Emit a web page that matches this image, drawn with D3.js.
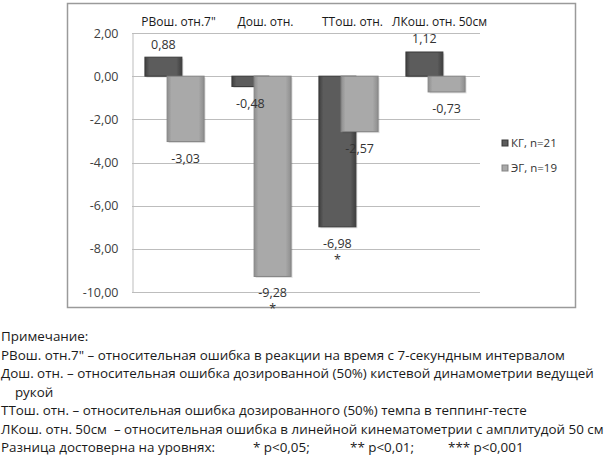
<!DOCTYPE html>
<html>
<head>
<meta charset="utf-8">
<script src="https://cdn.jsdelivr.net/npm/d3@7"></script>
<style>
  body { margin: 0; background: #fff; }
  svg { display: block; font-family: "Open Sans", "Noto Sans", sans-serif; }
  text { white-space: pre; }
</style>
</head>
<body>
<svg id="chart" width="605" height="458"></svg>
<script>
// chart data
var categories = ['РВош. отн.7"', 'Дош. отн.', 'ТТош. отн.', 'ЛКош. отн. 50см'];
var seriesNames = ['КГ, n=21', 'ЭГ, n=19'];
var kgValues = [0.88, -0.48, -6.98, 1.12];
var egValues = [-3.03, -9.28, -2.57, -0.73];
var kgMarks = ['', '', '*', ''];
var egMarks = ['', '*', '', ''];
var yTicks = [2, 0, -2, -4, -6, -8, -10];

var noteLines = [
  'Примечание:',
  'РВош. отн.7" – относительная ошибка в реакции на время с 7-секундным интервалом',
  'Дош. отн. – относительная ошибка дозированной (50%) кистевой динамометрии ведущей',
  '    рукой',
  'ТТош. отн. – относительная ошибка дозированного (50%) темпа в теппинг-тесте',
  'ЛКош. отн. 50см  – относительная ошибка в линейной кинематометрии с амплитудой 50 см'
];
var levelsLabel = 'Разница достоверна на уровнях:';
var levels = ['* p<0,05;', '** p<0,01;', '*** p<0,001'];

var series = [
  {name: seriesNames[0], values: kgValues, marks: kgMarks, fill: 'url(#gradKG)', stroke: '#3a3a3a'},
  {name: seriesNames[1], values: egValues, marks: egMarks, fill: 'url(#gradEG)', stroke: '#858585'}
];

var svg = d3.select('#chart');
var fmt = function (v) { return d3.format('.2f')(v).replace('.', ',').replace('\u2212', '-'); };

/*******************
 * GRADIENTS
 *******************/
var defs = svg.append('defs');
function addGrad(id, edge, mid) {
  var g = defs.append('linearGradient').attr('id', id).attr('x1', 0).attr('x2', 1).attr('y1', 0).attr('y2', 0);
  g.append('stop').attr('offset', '0%').attr('stop-color', edge);
  g.append('stop').attr('offset', '12%').attr('stop-color', mid);
  g.append('stop').attr('offset', '85%').attr('stop-color', mid);
  g.append('stop').attr('offset', '100%').attr('stop-color', edge);
}
addGrad('gradKG', '#3f3f3f', '#5c5c5c');
addGrad('gradEG', '#8e8e8e', '#a9a9a9');

/*******************
 * FRAME
 *******************/
svg.append('rect').attr('x', 67.5).attr('y', 3.5).attr('width', 508).attr('height', 304)
  .attr('fill', '#fff').attr('stroke', '#9a9a9a').attr('stroke-width', 1.5);

/*******************
 * SCALES
 *******************/
var x = d3.scaleBand().domain(categories).range([132, 480]).padding(0);
var y = d3.scaleLinear().domain([-10, 2]).range([292, 33]);
var barW = x.bandwidth() * 0.425;
// overlapped bars: second series shifted by 60% of bar width
var xs = d3.scalePoint().domain(seriesNames).range([-barW * 0.3 - 1, barW * 0.3 - 1]);

// gridlines
svg.append('g').selectAll('line').data(yTicks).join('line')
  .attr('x1', 132).attr('x2', 480)
  .attr('y1', function (d) { return Math.round(y(d)) + 0.5; })
  .attr('y2', function (d) { return Math.round(y(d)) + 0.5; })
  .attr('stroke', '#bdbdbd').attr('stroke-width', 1);

// y axis
var yAxis = svg.append('g').attr('transform', 'translate(132.5,0)')
  .call(d3.axisLeft(y).tickValues(yTicks).tickSize(0).tickPadding(14).tickFormat(fmt));
yAxis.select('.domain').attr('stroke', '#bdbdbd');
yAxis.selectAll('text').attr('font-size', 12.5).attr('fill', '#404040')
  .attr('font-family', '"Open Sans", sans-serif');

// category labels at top
var catLabels = svg.append('g').selectAll('text').data(categories).join('text')
  .attr('x', function (d) { return x(d) + x.bandwidth() / 2 + 3; })
  .attr('y', 26)
  .attr('text-anchor', 'middle')
  .attr('font-size', 12).attr('fill', '#1a1a1a')
  .text(function (d) { return d; });

// push a label right when it would collide with the one before it
function spreadLabels() {
  var prevRight = -Infinity;
  catLabels.each(function (d) {
    var base = x(d) + x.bandwidth() / 2 + 3;
    var w = this.getComputedTextLength();
    var left = base - w / 2;
    if (left < prevRight + 7) left = prevRight + 7;
    d3.select(this).attr('x', left + w / 2);
    prevRight = left + w;
  });
}
spreadLabels();
if (document.fonts && document.fonts.ready) document.fonts.ready.then(spreadLabels);

/*******************
 * BARS
 *******************/
function rowsOf(s) {
  return categories.map(function (c, i) { return {cat: c, v: s.values[i], mark: s.marks[i], name: s.name}; });
}
function cx(d) { return x(d.cat) + x.bandwidth() / 2 + xs(d.name); }

series.forEach(function (s) {
  var g = svg.append('g');
  var rows = rowsOf(s);

  // soft shadow
  g.selectAll('rect.shadow').data(rows).join('rect').attr('class', 'shadow')
    .attr('x', function (d) { return cx(d) - barW / 2 + 1.5; })
    .attr('y', function (d) { return Math.min(y(d.v), y(0)) + 1.5; })
    .attr('width', barW)
    .attr('height', function (d) { return Math.abs(y(d.v) - y(0)); })
    .attr('fill', '#000').attr('opacity', 0.12);

  g.selectAll('rect.bar').data(rows).join('rect').attr('class', 'bar')
    .attr('x', function (d) { return cx(d) - barW / 2; })
    .attr('y', function (d) { return Math.min(y(d.v), y(0)); })
    .attr('width', barW)
    .attr('height', function (d) { return Math.abs(y(d.v) - y(0)); })
    .attr('fill', s.fill).attr('stroke', s.stroke).attr('stroke-width', 1);
});

// value labels and marks on top of every bar
series.forEach(function (s) {
  var g = svg.append('g').attr('font-size', 12.5).attr('fill', '#333').attr('text-anchor', 'middle');
  var rows = rowsOf(s);

  g.selectAll('text.val').data(rows).join('text').attr('class', 'val')
    .attr('x', cx)
    .attr('y', function (d) { return d.v >= 0 ? y(d.v) - 8.5 : y(d.v) + 21; })
    .text(function (d) { return fmt(d.v); });

  g.selectAll('text.mark').data(rows.filter(function (d) { return d.mark; })).join('text').attr('class', 'mark')
    .attr('x', cx)
    .attr('y', function (d) { return y(d.v) + 37; })
    .text(function (d) { return d.mark; });
});

/*******************
 * LEGEND
 *******************/
var legend = svg.append('g').selectAll('g').data(series).join('g')
  .attr('transform', function (d, i) { return 'translate(502,' + (140 + i * 25) + ')'; });
legend.append('rect').attr('width', 6).attr('height', 6)
  .attr('fill', function (d) { return d.fill; }).attr('stroke', function (d) { return d.stroke; });
legend.append('text').attr('x', 9).attr('y', 7)
  .attr('font-size', 11.5).attr('fill', '#333')
  .text(function (d) { return d.name; });

/*******************
 * NOTES
 *******************/
var notes = svg.append('g').attr('font-size', 13.4).attr('fill', '#1a1a1a');
notes.selectAll('text').data(noteLines).join('text')
  .attr('x', 1)
  .attr('y', function (d, i) { return 341 + i * 18.5; })
  .text(function (d) { return d; });

var lastY = 341 + noteLines.length * 18.5;
notes.append('text').attr('x', 1).attr('y', lastY).text(levelsLabel);
var levelX = [253, 350, 448];
notes.selectAll('text.lvl').data(levels).join('text').attr('class', 'lvl')
  .attr('x', function (d, i) { return levelX[i]; })
  .attr('y', lastY)
  .text(function (d) { return d; });
</script>
</body>
</html>
